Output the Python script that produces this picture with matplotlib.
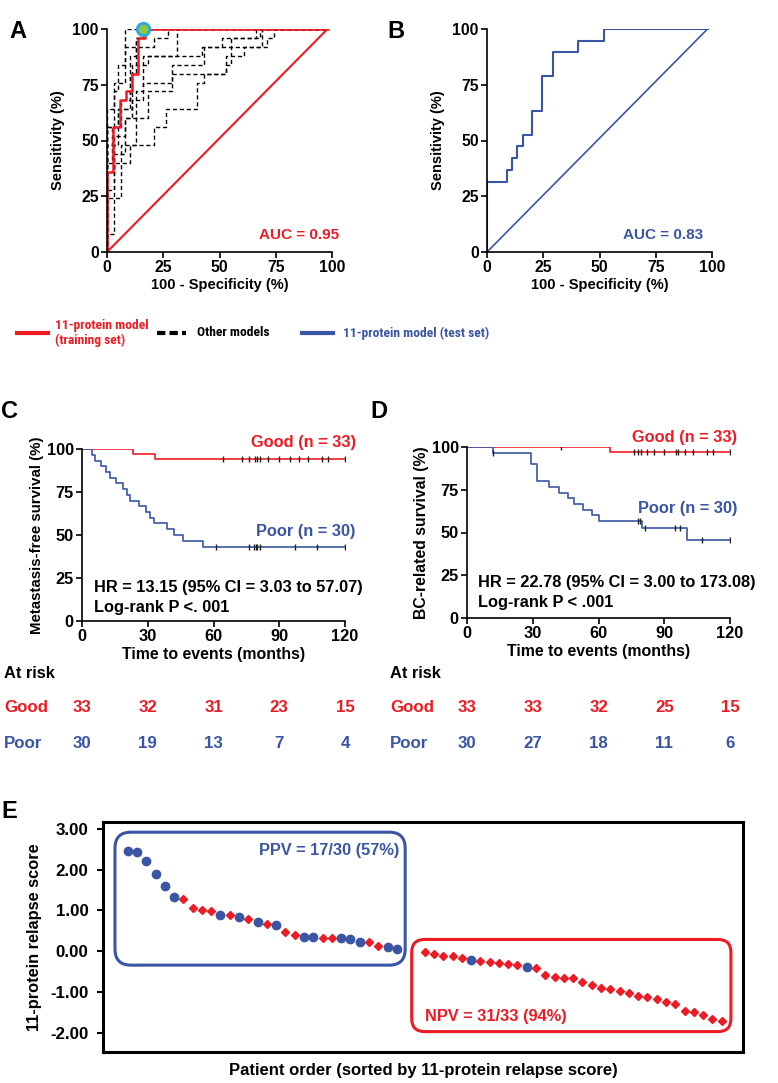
import numpy as np
import matplotlib
matplotlib.use("Agg")
import matplotlib.pyplot as plt
from matplotlib import font_manager
from matplotlib.lines import Line2D
from matplotlib.patches import FancyBboxPatch
from matplotlib.transforms import IdentityTransform, blended_transform_factory

plt.rcParams['font.family'] = ['Liberation Sans', 'DejaVu Sans']
plt.rcParams['font.weight'] = 'bold'
plt.rcParams['axes.labelweight'] = 'bold'
plt.rcParams['axes.unicode_minus'] = False


def pick_narrow():
    # the legend row uses a condensed face in the original
    for fam, size in [('Liberation Sans Narrow', 10.8), ('Roboto Condensed', 9.7), ('Arial Narrow', 10.8)]:
        try:
            font_manager.findfont(font_manager.FontProperties(family=fam, weight='bold'),
                                  fallback_to_default=False)
            return [fam, 'Liberation Sans'], size
        except ValueError:
            pass
    return ['Liberation Sans', 'DejaVu Sans'], 8.6


NARROW, NARROW_SIZE = pick_narrow()

RED = '#ED1C24'
BLUE = '#3A55A4'

# ---------------- data ----------------
# A: 11-protein model, training set ROC (fpr, tpr in %)
train_fpr = [0, 0, 2.8, 2.8, 5.6, 5.6, 8.3, 8.3, 11.1, 11.1, 13.9, 13.9, 16.7, 16.7, 98]
train_tpr = [0, 36, 36, 56, 56, 68, 68, 72, 72, 80, 80, 96, 96, 100, 100]
cutoff_fpr, cutoff_tpr = 16, 100

# other models: (fpr where tpr jumps, new tpr)
other_models = [
    [(0, 8), (3, 24), (6, 48), (21, 56), (26, 64), (40, 76), (43, 80), (53, 84), (55, 92), (71, 96), (74, 100)],
    [(0, 28), (3, 40), (10, 48), (13, 60), (18, 72), (29, 80), (53, 88), (61, 92), (69, 100)],
    [(0, 64), (3, 76), (8, 92), (13, 96), (16, 100)],
    [(0, 56), (5, 64), (11, 84), (18, 88), (42, 92), (55, 96), (66, 100)],
    [(0, 36), (3, 52), (8, 60), (11, 68), (16, 76), (29, 84), (43, 92), (51, 96), (68, 100)],
    [(0, 24), (3, 44), (8, 60), (13, 72), (16, 88), (31, 100)],
    [(0, 48), (5, 64), (10, 80), (13, 92), (21, 96), (27, 100)],
    [(0, 40), (2, 56), (6, 68), (10, 88), (13, 96), (16, 100)],
    [(0, 56), (3, 72), (5, 84), (8, 100)],
]

# B: test set ROC
test_fpr = [0, 0, 8.7, 8.7, 11, 11, 13.2, 13.2, 15.8, 15.8, 20.1, 20.1, 24.6, 24.6, 29.5, 29.5, 40.6, 40.6, 52.2, 52.2, 98]
test_tpr = [0, 31.6, 31.6, 36.8, 36.8, 42.1, 42.1, 47.4, 47.4, 52.6, 52.6, 63.2, 63.2, 78.9, 78.9, 89.5, 89.5, 94.7, 94.7, 100, 100]
diag = [0, 98]
diag_y = [0, 100]

# C: metastasis-free survival
c_good_t = [0, 23.2, 33.1]
c_good_s = [100, 97.0, 93.9]
c_good_cens = [64.3, 73.2, 76, 78.8, 79.7, 81, 85, 90, 95, 99, 103.3, 109.4, 112.4, 120]
c_poor_t = [0, 4.5, 6, 8.5, 11, 13, 15.5, 18.5, 20.5, 22, 26, 29, 31, 33, 38.7, 41.8, 46.3, 55]
c_poor_s = [100, 96.7, 93.3, 90, 86.7, 83.3, 80, 76.7, 73.3, 70, 66.7, 63.3, 60, 56.7, 53.3, 50, 46.7, 43.3]
c_poor_cens = [61.2, 76, 78.5, 79.3, 80, 81, 97.2, 107, 120]

# D: BC-related survival
d_good_t = [0, 65.3]
d_good_s = [100, 97.0]
d_good_cens = [43, 76, 78.2, 79.3, 82, 85.5, 90, 95.3, 96.3, 99.5, 103, 109.4, 112.4, 120]
d_poor_t = [0, 11.8, 29.2, 31.9, 37.2, 42, 46, 49, 52.7, 57, 60.3, 79.7, 100.3]
d_poor_s = [100, 96.7, 90, 80, 76.7, 73.3, 70, 66.7, 63.3, 60, 56.7, 52.8, 45.8]
d_poor_cens = [12, 78.2, 79, 81, 95, 97, 107, 120]

risk_months = [0, 30, 60, 90, 120]
c_risk_good = [33, 32, 31, 23, 15]
c_risk_poor = [30, 19, 13, 7, 4]
d_risk_good = [33, 33, 32, 25, 15]
d_risk_poor = [30, 27, 18, 11, 6]

# E: relapse scores (1 = relapse, blue circle; 0 = no relapse, red diamond)
ppv_scores = [2.46, 2.43, 2.22, 1.89, 1.60, 1.32, 1.29, 1.07, 1.01, 0.99, 0.90, 0.88, 0.83, 0.79, 0.73,
              0.66, 0.64, 0.47, 0.39, 0.35, 0.35, 0.33, 0.33, 0.32, 0.30, 0.23, 0.22, 0.13, 0.10, 0.05]
ppv_relapse = [1, 1, 1, 1, 1, 1, 0, 0, 0, 0, 1, 0, 1, 0, 1, 0, 1, 0, 0, 1, 1, 0, 0, 1, 1, 1, 0, 0, 1, 1]
npv_scores = [-0.02, -0.07, -0.11, -0.12, -0.17, -0.22, -0.25, -0.27, -0.29, -0.31, -0.34, -0.38, -0.40,
              -0.58, -0.62, -0.65, -0.66, -0.75, -0.83, -0.91, -0.93, -0.97, -1.02, -1.10, -1.11, -1.18,
              -1.24, -1.30, -1.47, -1.50, -1.57, -1.66, -1.70]
npv_relapse = [0, 0, 0, 0, 0, 1, 0, 0, 0, 0, 0, 1, 0, 0, 0, 0, 0, 0, 0, 0, 0, 0, 0, 0, 0, 0, 0, 0, 0, 0, 0, 0, 0]

# ---------------- figure ----------------
W, H = 778, 1083
fig = plt.figure(figsize=(W / 100, H / 100), dpi=100)


def rect(x0, y0, x1, y1):
    # pixel box (top-left origin) -> figure fraction
    return [x0 / W, 1 - y1 / H, (x1 - x0) / W, (y1 - y0) / H]


def style_axes(ax, size):
    for s in ['top', 'right']:
        ax.spines[s].set_visible(False)
    for s in ['left', 'bottom']:
        ax.spines[s].set_linewidth(1.2)
    ax.tick_params(direction='out', length=4, width=1.2, labelsize=size, pad=2)


def step_vertices(steps, end=98):
    xs, ys = [0], [0]
    prev = 0
    for x, y in steps:
        xs += [x, x]
        ys += [prev, y]
        prev = y
    xs.append(end)
    ys.append(prev)
    return xs, ys


# ----- A -----
axA = fig.add_axes(rect(107, 29, 332, 252))
for m in other_models:
    xs, ys = step_vertices(m)
    axA.plot(xs, ys, color='black', lw=1.0, ls=(0, (3, 2)))
axA.plot(diag, diag_y, color=RED, lw=1.5)
axA.plot(train_fpr, train_tpr, color=RED, lw=1.8)
axA.plot([cutoff_fpr], [cutoff_tpr], 'o', ms=9, mfc='#8DC63F', mec='#29ABE2', mew=2, clip_on=False, zorder=5)
axA.set_xlim(0, 100)
axA.set_ylim(0, 100)
axA.set_xticks([0, 25, 50, 75, 100])
axA.set_yticks([0, 25, 50, 75, 100])
axA.set_xlabel('100 - Specificity (%)', fontsize=10.5, labelpad=2)
axA.set_ylabel('Sensitivity (%)', fontsize=10.5, labelpad=5)
style_axes(axA, 11.3)
axA.text(103, 7.6, 'AUC = 0.95', color=RED, fontsize=11, ha='right', va='center')

# ----- B -----
axB = fig.add_axes(rect(487, 29, 712, 252))
axB.plot(diag, diag_y, color=BLUE, lw=1.2)
axB.plot(test_fpr, test_tpr, color=BLUE, lw=1.5)
axB.set_xlim(0, 100)
axB.set_ylim(0, 100)
axB.set_xticks([0, 25, 50, 75, 100])
axB.set_yticks([0, 25, 50, 75, 100])
axB.set_xlabel('100 - Specificity (%)', fontsize=10.5, labelpad=2)
axB.set_ylabel('Sensitivity (%)', fontsize=10.5, labelpad=5)
style_axes(axB, 11.3)
axB.text(96, 7.6, 'AUC = 0.83', color=BLUE, fontsize=11, ha='right', va='center')

# ----- legend row -----
ly = 1 - 333 / H
fig.add_artist(Line2D([17 / W, 48 / W], [ly, ly], color=RED, lw=3))
fig.text(55 / W, ly, '11-protein model\n(training set)', color=RED, fontsize=NARROW_SIZE, va='center', ha='left',
         linespacing=1.25, family=NARROW)
fig.add_artist(Line2D([157 / W, 186 / W], [ly, ly], color='black', lw=3, ls=(0, (2, 1))))
fig.text(197 / W, ly, 'Other models', color='black', fontsize=NARROW_SIZE, va='center', ha='left', family=NARROW)
fig.add_artist(Line2D([302 / W, 333 / W], [ly, ly], color=BLUE, lw=3))
fig.text(343 / W, ly, '11-protein model (test set)', color=BLUE, fontsize=NARROW_SIZE, va='center', ha='left',
         family=NARROW)


def level_at(t_list, s_list, times):
    idx = np.searchsorted(np.array(t_list), np.array(times), side='right') - 1
    return np.array(s_list)[idx]


def km_panel(ax, gt, gs, gc, pt, ps, pc, ylabel):
    ax.step(list(gt) + [120], list(gs) + [gs[-1]], where='post', color=RED, lw=1.2)
    ax.plot(gc, level_at(gt, gs, gc), ls='none', marker='|', color='#222222', ms=5, mew=1)
    ax.step(list(pt) + [120], list(ps) + [ps[-1]], where='post', color=BLUE, lw=1.2)
    ax.plot(pc, level_at(pt, ps, pc), ls='none', marker='|', color='#222222', ms=5, mew=1)
    ax.set_xlim(0, 120)
    ax.set_ylim(0, 100)
    ax.set_xticks([0, 30, 60, 90, 120])
    ax.set_yticks([0, 25, 50, 75, 100])
    ax.set_xlabel('Time to events (months)', fontsize=11.4, labelpad=2)
    ax.set_ylabel(ylabel, fontsize=11, labelpad=2)
    style_axes(ax, 11.8)


# ----- C -----
axC = fig.add_axes(rect(82, 449, 345, 621))
km_panel(axC, c_good_t, c_good_s, c_good_cens, c_poor_t, c_poor_s, c_poor_cens, 'Metastasis-free survival (%)')
axC.yaxis.label.set_size(10.8)
axC.text(125, 103.5, 'Good (n = 33)', color=RED, fontsize=11.8, ha='right', va='center', clip_on=False)
axC.text(125, 52.3, 'Poor (n = 30)', color=BLUE, fontsize=11.8, ha='right', va='center')
axC.text(5.5, 19.2, 'HR = 13.15 (95% CI = 3.03 to 57.07)', fontsize=11.8, ha='left', va='center')
axC.text(5.5, 8.1, 'Log-rank P <. 001', fontsize=11.8, ha='left', va='center')

# ----- D -----
axD = fig.add_axes(rect(467, 447, 730, 618))
km_panel(axD, d_good_t, d_good_s, d_good_cens, d_poor_t, d_poor_s, d_poor_cens, 'BC-related survival (%)')
axD.yaxis.label.set_size(11.3)
axD.text(123.3, 105.3, 'Good (n = 33)', color=RED, fontsize=11.8, ha='right', va='center', clip_on=False)
axD.text(123.3, 64.3, 'Poor (n = 30)', color=BLUE, fontsize=11.8, ha='right', va='center')
axD.text(5, 20.5, 'HR = 22.78 (95% CI = 3.00 to 173.08)', fontsize=11.8, ha='left', va='center')
axD.text(5, 8.8, 'Log-rank P < .001', fontsize=11.8, ha='left', va='center')

# ----- at risk tables -----
for ax, lx, good, poor in [(axC, 4, c_risk_good, c_risk_poor), (axD, 390, d_risk_good, d_risk_poor)]:
    tr = blended_transform_factory(ax.transData, fig.transFigure)
    fig.text(lx / W, 1 - 674 / H, 'At risk', fontsize=11.8, ha='left', va='center')
    fig.text(lx / W, 1 - 708 / H, 'Good', color=RED, fontsize=12.2, ha='left', va='center')
    fig.text(lx / W, 1 - 743 / H, 'Poor', color=BLUE, fontsize=12.2, ha='left', va='center')
    for m, g, p in zip(risk_months, good, poor):
        ax.text(m, 1 - 708 / H, str(g), color=RED, fontsize=12.2, ha='center', va='center', transform=tr)
        ax.text(m, 1 - 743 / H, str(p), color=BLUE, fontsize=12.2, ha='center', va='center', transform=tr)

# ----- E -----
axE = fig.add_axes(rect(103, 822, 743, 1052))
ppv_x = np.arange(1, len(ppv_scores) + 1)
npv_x = np.arange(len(ppv_scores) + 3, len(ppv_scores) + 3 + len(npv_scores))
all_x = np.concatenate([ppv_x, npv_x])
all_s = np.array(ppv_scores + npv_scores)
all_r = np.array(ppv_relapse + npv_relapse)
axE.plot(all_x[all_r == 0], all_s[all_r == 0], ls='none', marker='D', ms=4.3, color=RED, mec=RED)
axE.plot(all_x[all_r == 1], all_s[all_r == 1], ls='none', marker='o', ms=6.0, color=BLUE, mec=BLUE)
axE.set_xlim(-1.66, 67.3)
axE.set_ylim(-2.47, 3.17)
axE.set_yticks([3, 2, 1, 0, -1, -2])
axE.set_yticklabels(['%.2f' % v for v in [3, 2, 1, 0, -1, -2]])
axE.set_xticks([])
for s in axE.spines.values():
    s.set_linewidth(2.2)
axE.tick_params(axis='y', direction='out', length=4, width=1.5, labelsize=12.2, pad=6.5)
axE.set_xlabel('Patient order (sorted by 11-protein relapse score)', fontsize=12, labelpad=8)
axE.set_ylabel('11-protein relapse score', fontsize=11.8, labelpad=6)


def rounded_box(ax, x0, x1, y0, y1, color, r):
    (px0, py0), (px1, py1) = ax.transData.transform([(x0, y0), (x1, y1)])
    box = FancyBboxPatch((px0, py0), px1 - px0, py1 - py0,
                         boxstyle='round,pad=0,rounding_size=%d' % r,
                         transform=IdentityTransform(), fc='none', ec=color, lw=2.2, clip_on=False)
    ax.add_patch(box)


rounded_box(axE, ppv_x[0] - 1.37, ppv_x[-1] + 0.9, min(ppv_scores) - 0.39, max(ppv_scores) + 0.46, BLUE, 16)
rounded_box(axE, npv_x[0] - 1.4, npv_x[-1] + 1.0, min(npv_scores) - 0.27, max(npv_scores) + 0.31, RED, 13)
axE.text(ppv_x[-1] + 0.3, 2.48, 'PPV = 17/30 (57%)', color=BLUE, fontsize=11.8, ha='right', va='center')
axE.text(npv_x[0], -1.60, 'NPV = 31/33 (94%)', color=RED, fontsize=11.8, ha='left', va='center')

# ----- panel letters -----
for lab, x, y in [('A', 9, 32), ('B', 387, 32), ('C', 1, 412), ('D', 370, 412), ('E', 1, 812)]:
    fig.text(x / W, 1 - y / H, lab, fontsize=17, ha='left', va='center')

fig.savefig('out.png', dpi=100)
